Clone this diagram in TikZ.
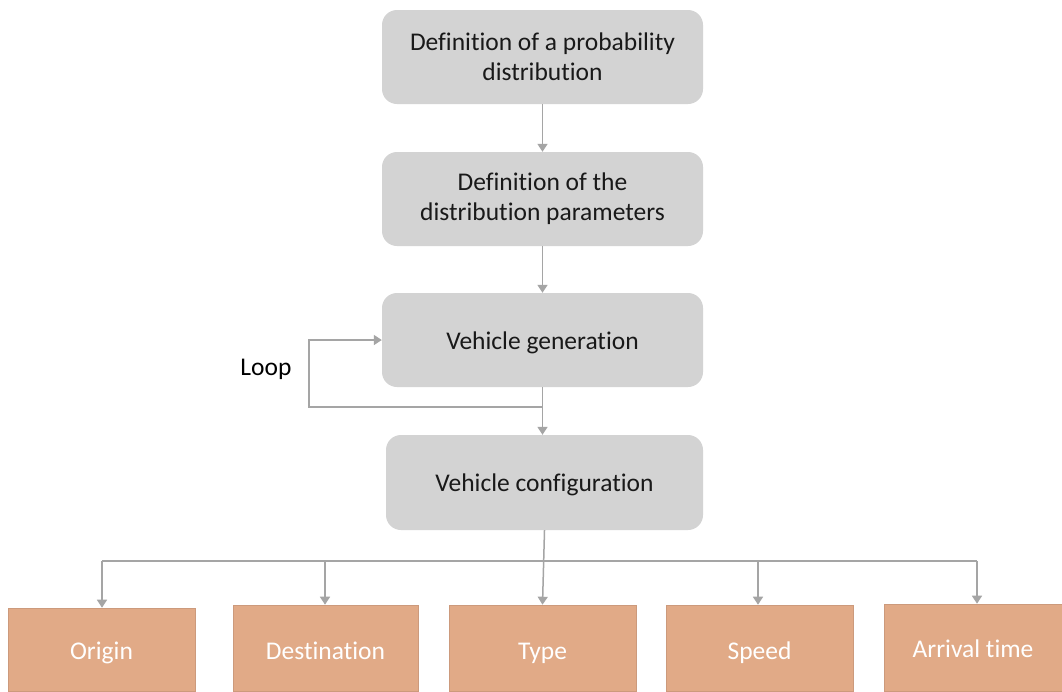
\documentclass[tikz,border=0pt]{standalone}
\usepackage{fontspec}
\setmainfont[Ligatures=NoCommon]{Carlito}
\usetikzlibrary{arrows.meta}
\definecolor{boxgray}{HTML}{D3D3D3}
\definecolor{boxorange}{HTML}{E1AA87}
\definecolor{orangeedge}{HTML}{CC9A7C}
\definecolor{linegray}{HTML}{A5A5A5}
\tikzset{
  graybox/.style={rectangle, rounded corners=15pt, fill=boxgray, draw=none, inner sep=0pt,
    align=center, text=black!90, font=\fontsize{25.5}{30}\selectfont},
  oneline/.style={text height=20pt, text depth=2pt},
  orangebox/.style={rectangle, fill=boxorange, draw=orangeedge, line width=0.6pt, inner sep=0pt,
    align=center, text=white, font=\fontsize{25.5}{30}\selectfont},
  conn/.style={draw=linegray, line width=1.5pt},
  arr/.style={conn, -{Triangle[width=10pt,length=8pt]}},
  lbl/.style={font=\fontsize{25.5}{30}\selectfont, text=black}
}
\begin{document}
\begin{tikzpicture}[x=1pt,y=-1pt]
\useasboundingbox (0,0) rectangle (1062,691);
\fill[white] (0,0) rectangle (1062,691);
% main chain
\node[graybox, minimum width=321pt, minimum height=94pt] (b1) at (542.5,57) {Definition of a probability\\distribution};
\node[graybox, minimum width=321pt, minimum height=94pt] (b2) at (542.5,199) {Definition of the\\distribution parameters};
\node[graybox, oneline, minimum width=321pt, minimum height=94pt] (b3) at (542.5,340) {Vehicle generation};
\node[graybox, oneline, minimum width=317pt, minimum height=95pt] (b4) at (544.5,482.5) {Vehicle configuration};
% bottom boxes
\node[orangebox, text height=21pt, text depth=2pt, minimum width=187pt, minimum height=83pt] (orig) at (101.5,649.5) {Origin};
\node[orangebox, text height=24pt, text depth=2pt, minimum width=185pt, minimum height=86pt] (dest) at (325.5,648) {Destination};
\node[orangebox, text height=24pt, text depth=2pt, minimum width=187pt, minimum height=86pt] (type) at (542.5,648) {Type};
\node[orangebox, text height=24pt, text depth=2pt, minimum width=187pt, minimum height=86pt] (speed) at (759.5,648) {Speed};
\node[orangebox, text height=22pt, text depth=2pt, minimum width=178pt, minimum height=87pt] (arrt) at (973,647.5) {Arrival time};
% label
\node[lbl] (loop) at (266,369) {Loop};
% connectors
\draw[arr] (b1.south) -- (b2.north);
\draw[arr] (b2.south) -- (b3.north);
\draw[arr] (b3.south) -- (b3.south |- b4.north);
\coordinate (ls) at (542.5,407);
\coordinate (lc) at (309,407);
\draw[arr] (ls) -- (lc) |- (b3.west);
% distribution to bottom
\draw[arr] (b4.south) -- (type.north);
\coordinate (ho) at (102,561);
\coordinate (hd) at (325,561);
\coordinate (hs) at (758,561);
\coordinate (ha) at (977,561);
\draw[conn] (ho) -- (ha);
\draw[arr] (ho) -- (ho |- orig.north);
\draw[arr] (hd) -- (hd |- dest.north);
\draw[arr] (hs) -- (hs |- speed.north);
\draw[arr] (ha) -- (ha |- arrt.north);
\end{tikzpicture}
\end{document}
